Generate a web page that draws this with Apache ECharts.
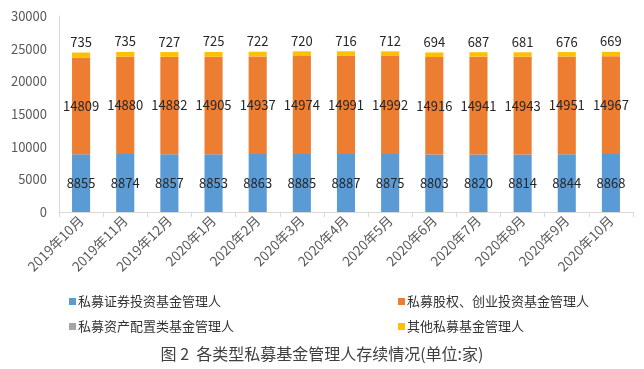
<!DOCTYPE html>
<html><head><meta charset="utf-8">
<script src="https://cdn.jsdelivr.net/npm/echarts@6/dist/echarts.min.js"></script>
<style>html,body{margin:0;padding:0;background:#fff}#c{width:644px;height:369px}</style>
</head><body><div id="c"></div>
<script>
const categories = ['2019年10月','2019年11月','2019年12月','2020年1月','2020年2月','2020年3月','2020年4月','2020年5月','2020年6月','2020年7月','2020年8月','2020年9月','2020年10月'];
const securities = [8855,8874,8857,8853,8863,8885,8887,8875,8803,8820,8814,8844,8868];
const equity = [14809,14880,14882,14905,14937,14974,14991,14992,14916,14941,14943,14951,14967];
const allocation = [9,9,9,9,9,9,9,9,9,9,9,9,9];
const other = [735,735,727,725,722,720,716,712,694,687,681,676,669];
const yTicks = [0,5000,10000,15000,20000,25000,30000];
const names = ['私募证券投资基金管理人','私募股权、创业投资基金管理人','私募资产配置类基金管理人','其他私募基金管理人'];
const colors = ['#5B9BD5','#ED7D31','#A5A5A5','#FFC000'];
const font = '"Noto Sans CJK SC", "Noto Sans", sans-serif';
const chart = echarts.init(document.getElementById('c'));
const lbl = {show:true, color:'#262626', fontSize:13, fontFamily:font};
function legend(i, left, top){
  return {data:[names[i]], left:left, top:top, itemWidth:7, itemHeight:7, itemGap:0,
    icon:'rect', textStyle:{fontSize:13, color:'#333', fontFamily:font, padding:[0,0,0,-3]}};
}
chart.setOption({
  animation:false,
  color: colors,
  title:{text:'图 2  各类型私募基金管理人存续情况(单位:家)', left:'center', top:341,
    textStyle:{fontSize:16, fontWeight:'normal', color:'#404040', fontFamily:font}},
  legend:[legend(0,64,290), legend(1,393,290), legend(2,64,315), legend(3,393,315)],
  grid:{left:59, top:16, right:11, bottom:157},
  xAxis:{type:'category', data:categories,
    axisLine:{lineStyle:{color:'#D9D9D9'}},
    axisTick:{show:true, lineStyle:{color:'#D9D9D9'}, length:5},
    axisLabel:{rotate:45, fontSize:13.5, color:'#595959', fontFamily:font, margin:6, interval:0}},
  yAxis:{type:'value', min:yTicks[0], max:yTicks[yTicks.length-1], interval:5000,
    axisLine:{show:true, lineStyle:{color:'#D9D9D9'}},
    axisTick:{show:false}, splitLine:{show:false},
    axisLabel:{fontSize:13, color:'#595959', fontFamily:font, margin:12, formatter:v=>String(v)}},
  series:[
    {name:names[0], type:'bar', stack:'a', data:securities, barWidth:'41%', label:Object.assign({position:'inside'},lbl)},
    {name:names[1], type:'bar', stack:'a', data:equity, label:Object.assign({position:'inside'},lbl)},
    {name:names[2], type:'bar', stack:'a', data:allocation},
    {name:names[3], type:'bar', stack:'a', data:other, label:Object.assign({position:'top', distance:4},lbl)}
  ]
});
</script></body></html>
